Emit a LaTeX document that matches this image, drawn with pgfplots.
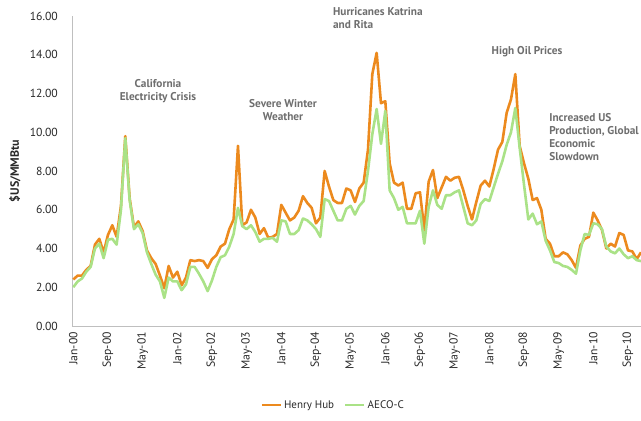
\documentclass[border=0pt]{standalone}
\usepackage{fontspec}
\setmainfont{PT Sans}
\usepackage{pgfplots}
\usepackage{pgfplotstable}
\pgfplotsset{compat=1.18}
\usetikzlibrary{calc}
\definecolor{hh}{RGB}{236,138,30}
\definecolor{aeco}{RGB}{170,226,135}
\definecolor{annot}{RGB}{110,110,110}
\definecolor{axisgray}{RGB}{191,191,191}
\definecolor{ticktext}{RGB}{40,40,40}

\pgfplotstableread{
x y
0 2.4
1 2.6
2 2.6
3 2.9
4 3.1
5 4.2
6 4.5
7 3.8
8 4.7
9 5.2
10 4.6
11 6.2
12 9.8
13 6.6
14 5.1
15 5.4
16 4.9
17 3.9
18 3.5
19 3.2
20 2.6
21 1.95
22 3.1
23 2.5
24 2.8
25 2.1
26 2.5
27 3.4
28 3.35
29 3.4
30 3.35
31 3.0
32 3.45
33 3.65
34 4.1
35 4.25
36 5.0
37 5.5
38 9.3
39 5.2
40 5.35
41 6.0
42 5.6
43 4.75
44 5.05
45 4.55
46 4.6
47 4.75
48 6.25
49 5.85
50 5.45
51 5.6
52 5.95
53 6.7
54 6.35
55 6.1
56 5.3
57 5.6
58 8.0
59 7.2
60 6.5
61 6.35
62 6.35
63 7.1
64 7.0
65 6.4
66 7.1
67 7.4
68 9.1
69 13.0
70 14.1
71 11.5
72 11.6
73 8.4
74 7.4
75 7.25
76 7.4
77 6.05
78 6.05
79 6.85
80 6.9
81 4.95
82 7.45
83 8.05
84 6.6
85 7.15
86 7.7
87 7.5
88 7.65
89 7.7
90 7.0
91 6.2
92 5.5
93 6.4
94 7.25
95 7.5
96 7.2
97 8.1
98 9.1
99 9.5
100 11.0
101 11.7
102 13.0
103 9.3
104 8.4
105 7.6
106 6.5
107 6.6
108 6.0
109 4.5
110 4.25
111 3.6
112 3.6
113 3.8
114 3.7
115 3.4
116 3.0
117 4.15
118 4.5
119 4.6
120 5.85
121 5.45
122 4.95
123 4.0
124 4.25
125 4.1
126 4.8
127 4.7
128 3.9
129 3.85
130 3.45
131 3.8
}\hhdata

\pgfplotstableread{
x y
0 2.0
1 2.3
2 2.45
3 2.8
4 3.05
5 4.0
6 4.25
7 3.5
8 4.45
9 4.5
10 4.2
11 6.0
12 9.7
13 6.5
14 5.0
15 5.25
16 4.8
17 3.8
18 3.2
19 2.65
20 2.3
21 1.45
22 2.5
23 2.3
24 2.3
25 1.85
26 2.15
27 3.05
28 3.05
29 2.7
30 2.3
31 1.8
32 2.35
33 3.05
34 3.55
35 3.65
36 4.1
37 4.75
38 6.1
39 5.15
40 5.0
41 5.2
42 4.85
43 4.35
44 4.5
45 4.5
46 4.55
47 4.35
48 5.45
49 5.4
50 4.75
51 4.75
52 4.95
53 5.55
54 5.45
55 5.25
56 5.0
57 4.6
58 6.55
59 6.45
60 5.95
61 5.45
62 5.45
63 6.05
64 6.2
65 5.75
66 6.2
67 6.45
68 8.0
69 9.9
70 11.2
71 9.4
72 11.1
73 7.0
74 6.6
75 6.0
76 6.15
77 5.3
78 5.3
79 5.3
80 5.95
81 4.25
82 6.15
83 7.0
84 6.25
85 6.05
86 6.75
87 6.75
88 6.9
89 7.0
90 6.15
91 5.3
92 5.2
93 5.45
94 6.3
95 6.55
96 6.45
97 7.15
98 7.85
99 8.5
100 9.35
101 10.0
102 11.25
103 9.2
104 7.3
105 5.5
106 5.8
107 5.25
108 5.4
109 4.4
110 3.9
111 3.3
112 3.25
113 3.1
114 3.05
115 2.9
116 2.7
117 3.9
118 4.75
119 4.7
120 5.3
121 5.25
122 5.0
123 4.1
124 3.85
125 3.75
126 4.0
127 3.7
128 3.5
129 3.6
130 3.4
131 3.35
}\aecodata

\begin{document}
\begin{tikzpicture}
\begin{axis}[
  scale only axis, width=569bp, height=310bp,
  xmin=-0.3, xmax=131, ymin=0, ymax=16,
  axis lines=left,
  axis line style={draw=axisgray, line width=0.9bp, -},
  major tick length=0pt,
  clip=false,
  xtick={0,8,...,128},
  xticklabels={Jan-00,Sep-00,May-01,Jan-02,Sep-02,May-03,Jan-04,Sep-04,May-05,Jan-06,Sep-06,May-07,Jan-08,Sep-08,May-09,Jan-10,Sep-10},
  xticklabel style={rotate=90, anchor=east, inner sep=0pt, font=\fontsize{11.7bp}{13bp}\selectfont, text=ticktext},
  xticklabel shift=6bp,
  ytick={0,2,...,16},
  yticklabel style={anchor=east, inner sep=0pt, font=\fontsize{11.7bp}{13bp}\selectfont, text=ticktext,
    /pgf/number format/fixed, /pgf/number format/fixed zerofill,
    /pgf/number format/precision=2, /pgf/number format/assume math mode=true},
  yticklabel shift=14bp,
  legend style={draw=none, fill=none, at={(0.459,-0.255)}, anchor=center,
    font=\fontsize{11bp}{13bp}\selectfont, text=ticktext, inner sep=0pt,
    /tikz/every even column/.append style={column sep=8bp}},
  legend columns=2,
  legend image code/.code={\draw[line width=2.6bp] (0bp,0bp) -- (19bp,0bp);},
  every axis plot/.append style={line width=2.6bp, line join=round, no markers},
]
\addplot[color=hh] table[x=x,y=y] {\hhdata};
\addlegendentry{Henry Hub}
\addplot[color=aeco] table[x=x,y=y] {\aecodata};
\addlegendentry{AECO-C}

\node[xshift=-57bp, rotate=90, font=\bfseries\fontsize{12bp}{13bp}\selectfont, text=ticktext] at (rel axis cs:0,0.5) {\$US/MMBtu};

\begin{scope}[every node/.style={font=\bfseries\fontsize{11.3bp}{13bp}\selectfont, text=annot, inner sep=0pt}]
\node[align=center] at (axis cs:19.55,12.13) {California\\Electricity Crisis};
\node[align=center] at (axis cs:48.4,11.17) {Severe Winter\\Weather};
\node[align=left, anchor=west] at (axis cs:59.9,15.9) {Hurricanes Katrina\\and Rita};
\node[align=center] at (axis cs:104.7,14.14) {High Oil Prices};
\node[align=left, anchor=west] at (axis cs:109.8,9.73) {Increased US\\Production, Global\\Economic\\Slowdown};
\end{scope}
\end{axis}
\pgfresetboundingbox
\path[use as bounding box] ($(current axis.south west)+(-72bp,-95bp)$) rectangle ++(641bp,421bp);
\end{tikzpicture}
\end{document}
